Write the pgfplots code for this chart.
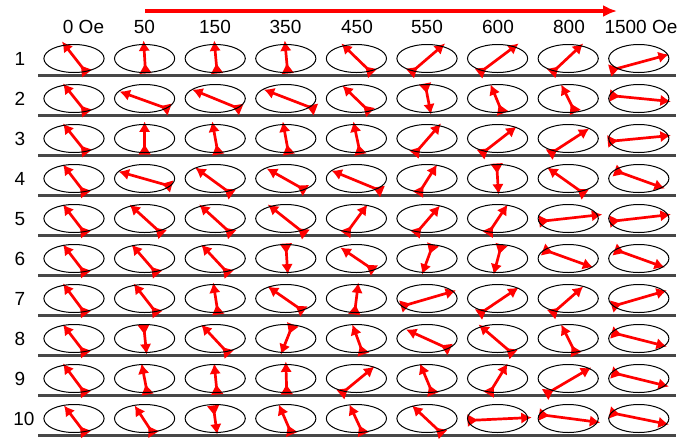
\documentclass[border=0pt]{standalone}
\usepackage{pgfplots}
\pgfplotsset{compat=1.18}
\usepackage{pgfplotstable}
\usepackage{fontspec}
\setmainfont{Liberation Sans}
\usetikzlibrary{arrows.meta}

% Moment direction in each cell: row r, field column c,
% tail (x1,y1) and head (x2,y2) as offsets from the ellipse centre (px, y down)
\pgfplotstableread{
r c x1 y1 x2 y2
1 0 13 15 -12 -17
1 1 1 15 -1 -18
1 2 2 15 -1 -18
1 3 2 15 -1 -18
1 4 16 15 -15 -15
1 5 -17 15 18 -15
1 6 -19 15 21 -15
1 7 -17 15 15 -15
1 8 -29 12 30 -4
2 0 13 15 -11 -15
2 1 25 11 -25 -7
2 2 26 11 -23 -9
2 3 30 11 -22 -9
2 4 14 14 -14 -13
2 5 -2 -15 4 16
2 6 5 15 -7 -14
2 7 7 14 -7 -14
2 8 -29 -3 32 3
3 0 13 15 -11 -15
3 1 0 16 0 -17
3 2 3 16 -3 -17
3 3 3 16 -3 -17
3 4 4 16 -3 -17
3 5 -13 16 14 -15
3 6 -17 16 19 -12
3 7 -19 16 21 -10
3 8 -31 3 32 -3
4 0 12 16 -11 -14
4 1 27 8 -26 -7
4 2 17 16 -20 -11
4 3 20 12 -19 -10
4 4 26 13 -25 -8
4 5 -9 16 10 -14
4 6 -1 -15 1 16
4 7 17 16 -21 -11
4 8 -24 -8 26 10
5 0 12 16 -11 -14
5 1 18 16 -15 -14
5 2 17 16 -16 -14
5 3 20 16 -18 -14
5 4 -11 16 11 -14
5 5 -12 16 13 -13
5 6 -10 16 10 -14
5 7 -29 3 34 -4
5 8 -29 3 32 -4
6 0 12 16 -11 -14
6 1 13 16 -13 -14
6 2 14 16 -14 -14
6 3 0 -15 2 16
6 4 18 12 -16 -11
6 5 6 -14 -5 16
6 6 4 -14 -4 16
6 7 -25 -9 25 9
6 8 -24 -9 26 9
7 0 12 16 -11 -15
7 1 13 16 -11 -15
7 2 3 16 -2 -16
7 3 18 13 -18 -12
7 4 -2 16 2 -16
7 5 -26 8 29 -8
7 6 -19 16 21 -11
7 7 -17 16 15 -12
7 8 -27 8 28 -8
8 0 12 16 -11 -14
8 1 -1 -14 2 16
8 2 14 16 -14 -14
8 3 7 -14 -5 16
8 4 7 16 -4 -14
8 5 23 11 -21 -9
8 6 16 16 -19 -14
8 7 8 16 -7 -14
8 8 -27 -6 28 8
9 0 12 16 -11 -15
9 1 3 16 -3 -15
9 2 2 16 -1 -15
9 3 1 16 0 -17
9 4 -16 16 18 -12
9 5 6 16 -7 -15
9 6 -9 16 10 -15
9 7 -23 16 23 -11
9 8 -27 -6 30 8
10 0 12 16 -10 -13
10 1 9 16 -10 -13
10 2 -2 -13 2 16
10 3 6 16 -7 -14
10 4 7 16 -7 -14
10 5 16 16 -15 -13
10 6 -30 2 34 -1
10 7 -29 -4 32 4
10 8 -29 -6 30 6
}\spins

% Separator rules under each row
\pgfplotstableread{
x y
38 75.5
676 75.5
nan nan
38 115.5
676 115.5
nan nan
38 155.5
676 155.5
nan nan
38 195.5
676 195.5
nan nan
38 235.5
676 235.5
nan nan
38 275.5
676 275.5
nan nan
38 315.5
676 315.5
nan nan
38 355.5
676 355.5
nan nan
38 395.5
676 395.5
nan nan
38 435.5
676 435.5
}\rules

\begin{document}
\begin{tikzpicture}[font=\fontsize{9.5}{11}\selectfont]
\begin{axis}[
  x=0.5pt, y=0.5pt, y dir=reverse,
  xmin=0, xmax=687, ymin=0, ymax=437,
  axis line style={draw=none}, ticks=none,
  clip=false,
  spin/.style={arrows={Triangle[reversed,length=5pt,width=5.8pt]-Latex[length=5.2pt,width=5.8pt]}},
]
\path (rel axis cs:0,0) rectangle (rel axis cs:1,1);

% rules
\addplot[black!72, line width=1.1pt, unbounded coords=jump] table {\rules};

% sample ellipses
\addplot[only marks, mark=o, mark size=7pt,
  mark options={xscale=2.15, draw=black, line width=0.5pt}]
  table[x expr=74+70.6*\thisrow{c}, y expr=58.5+40*(\thisrow{r}-1)] {\spins};

% moments
\addplot[red, line width=1.35pt, spin,
  quiver={u=\thisrow{x2}-\thisrow{x1}, v=\thisrow{y2}-\thisrow{y1}}]
  table[x expr=74+70.6*\thisrow{c}+\thisrow{x1}, y expr=58.5+40*(\thisrow{r}-1)+\thisrow{y1}] {\spins};

% field sweep arrow
\addplot[red, line width=2pt, -{Latex[length=7pt,width=6pt]}] coordinates {(145,11) (617,11)};

% field values
\node at (axis cs:83.5,27) {0 Oe};
\node at (axis cs:144.5,27) {50};
\node at (axis cs:215,27) {150};
\node at (axis cs:285.5,27) {350};
\node at (axis cs:357,27) {450};
\node at (axis cs:427,27) {550};
\node at (axis cs:498,27) {600};
\node at (axis cs:569,27) {800};
\node at (axis cs:641,27) {1500 Oe};

% row numbers
\node at (axis cs:20,59) {1};
\node at (axis cs:20,99) {2};
\node at (axis cs:20,139) {3};
\node at (axis cs:20,179) {4};
\node at (axis cs:20,219) {5};
\node at (axis cs:20,259) {6};
\node at (axis cs:20,299) {7};
\node at (axis cs:20,339) {8};
\node at (axis cs:20,379) {9};
\node at (axis cs:24,419) {10};
\end{axis}
\end{tikzpicture}
\end{document}
